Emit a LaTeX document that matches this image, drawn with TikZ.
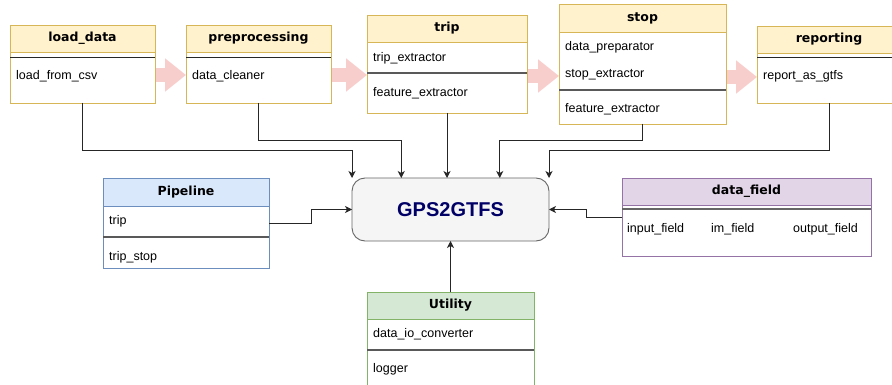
\documentclass[tikz,border=0pt]{standalone}
\usepackage{fontspec}
\setmainfont{Liberation Sans}
\newfontfamily\headfont{DejaVu Sans}
\usetikzlibrary{arrows.meta,calc}
\definecolor{ylfill}{HTML}{FFF2CC}
\definecolor{ylline}{HTML}{D6B656}
\definecolor{blfill}{HTML}{DAE8FC}
\definecolor{blline}{HTML}{6C8EBF}
\definecolor{grfill}{HTML}{D5E8D4}
\definecolor{grline}{HTML}{82B366}
\definecolor{pufill}{HTML}{E1D5E7}
\definecolor{puline}{HTML}{9673A6}
\definecolor{pinkc}{HTML}{F8CECC}
\definecolor{gpsfill}{HTML}{F5F5F5}
\definecolor{gpsline}{HTML}{666666}
\definecolor{navy}{HTML}{000066}
\tikzset{
  classbox/.style 2 args={draw=#1, fill=white, line width=0.9pt, anchor=north west, inner sep=0pt, outer sep=0pt},
  classhead/.style 2 args={draw=#2, fill=#1, line width=0.9pt, anchor=north west, inner sep=0pt, outer sep=0pt,
    font=\headfont\bfseries\fontsize{12.5}{14}\selectfont},
  rowtext/.style={anchor=base west, inner sep=0pt, font=\fontsize{12.5}{14}\selectfont},
  sepline/.style={draw=black!85, line width=0.9pt},
  divline/.style={draw=black!65, line width=1.3pt},
  dblline/.style={draw=black!60, line width=2pt},
  conn/.style={draw=black!85, line width=0.9pt, -{Stealth[length=7pt,width=7pt,inset=2pt]}},
  pinkarrow/.style={draw=pinkc, line width=14pt, line cap=butt, -{Triangle[length=21pt,width=32pt]}},
}
\begin{document}
\begin{tikzpicture}[x=1pt,y=-1pt]
\path[use as bounding box, clip] (0,0) rectangle (892,385);

% coordinates for pink arrows
\coordinate (a1s) at (155,75);  \coordinate (a1e) at (186,75);
\coordinate (a2s) at (331,75);  \coordinate (a2e) at (367,75);
\coordinate (a3s) at (527,76);  \coordinate (a3e) at (559,76);
\coordinate (a4s) at (726,77);  \coordinate (a4e) at (757,77);
\draw[pinkarrow] (a1s) -- (a1e);
\draw[pinkarrow] (a2s) -- (a2e);
\draw[pinkarrow] (a3s) -- (a3e);
\draw[pinkarrow] (a4s) -- (a4e);

% load_data
\node[classbox={ylline}{}, minimum width=145pt, minimum height=78pt] (load) at (10,25) {};
\node[classhead={ylfill}{ylline}, minimum width=145pt, minimum height=27pt] (load-h) at (10,25) {load\_data};
\draw[sepline] (load.west |- 0,57) -- (load.east |- 0,57);
\node[rowtext] (load-r1) at (16,79.5) {load\_from\_csv};

% preprocessing
\node[classbox={ylline}{}, minimum width=145pt, minimum height=78pt] (pre) at (186,25) {};
\node[classhead={ylfill}{ylline}, minimum width=145pt, minimum height=27pt] (pre-h) at (186,25) {preprocessing};
\draw[sepline] (pre.west |- 0,57) -- (pre.east |- 0,57);
\node[rowtext] (pre-r1) at (192,79.5) {data\_cleaner};

% trip
\node[classbox={ylline}{}, minimum width=160pt, minimum height=98pt] (trip) at (367,15) {};
\node[classhead={ylfill}{ylline}, minimum width=160pt, minimum height=27pt] (trip-h) at (367,15) {trip};
\node[rowtext] (trip-r1) at (373,61.5) {trip\_extractor};
\draw[divline] (trip.west |- 0,73) -- (trip.east |- 0,73);
\node[rowtext] (trip-r2) at (373,96.5) {feature\_extractor};

% stop
\node[classbox={ylline}{}, minimum width=167pt, minimum height=120pt] (stop) at (559,4) {};
\node[classhead={ylfill}{ylline}, minimum width=167pt, minimum height=28pt] (stop-h) at (559,4) {stop};
\node[rowtext] (stop-r1) at (565,50.5) {data\_preparator};
\node[rowtext] (stop-r2) at (565,77.5) {stop\_extractor};
\draw[divline] (stop.west |- 0,90) -- (stop.east |- 0,90);
\node[rowtext] (stop-r3) at (565,112.5) {feature\_extractor};

% reporting
\node[classbox={ylline}{}, minimum width=144pt, minimum height=77pt] (rep) at (757,26) {};
\node[classhead={ylfill}{ylline}, minimum width=144pt, minimum height=27pt] (rep-h) at (757,26) {reporting};
\draw[sepline] (rep.west |- 0,57) -- (rep.east |- 0,57);
\node[rowtext] (rep-r1) at (763,79.5) {report\_as\_gtfs};

% GPS2GTFS
\node[draw=gpsline, fill=gpsfill, line width=0.9pt, rounded corners=13pt, anchor=north west,
      minimum width=197pt, minimum height=63pt, inner sep=0pt, outer sep=0pt,
      font=\bfseries\fontsize{20}{24}\selectfont, text=navy] (gps) at (352,178) {GPS2GTFS};

% Pipeline
\node[classbox={blline}{}, minimum width=166pt, minimum height=90pt] (pipe) at (103,178) {};
\node[classhead={blfill}{blline}, minimum width=166pt, minimum height=28pt] (pipe-h) at (103,178) {Pipeline};
\node[rowtext] (pipe-r1) at (109,224.5) {trip};
\draw[divline] (pipe.west |- 0,237) -- (pipe.east |- 0,237);
\node[rowtext] (pipe-r2) at (109,260.5) {trip\_stop};

% data_field
\node[classbox={puline}{}, minimum width=249pt, minimum height=78pt] (df) at (622,178) {};
\node[classhead={pufill}{puline}, minimum width=249pt, minimum height=27pt] (df-h) at (622,178) {data\_field};
\draw[dblline] (df.west |- 0,209) -- (df.east |- 0,209);
\node[rowtext] (df-r1) at (627,232.5) {input\_field};
\node[rowtext] (df-r2) at (711,232.5) {im\_field};
\node[rowtext] (df-r3) at (793,232.5) {output\_field};

% Utility
\node[classbox={grline}{}, minimum width=167pt, minimum height=96pt] (util) at (367,292) {};
\node[classhead={grfill}{grline}, minimum width=167pt, minimum height=27pt] (util-h) at (367,292) {Utility};
\node[rowtext] (util-r1) at (373,337.5) {data\_io\_converter};
\draw[divline] (util.west |- 0,350) -- (util.east |- 0,350);
\node[rowtext] (util-r2) at (373,372.5) {logger};

% connectors
\coordinate (gpsq1) at ($(gps.north west)!0.25!(gps.north east)$);
\coordinate (gpsq3) at ($(gps.north west)!0.75!(gps.north east)$);
\draw[conn] (load.south) -- ++(0,47) -| (gps.north west);
\draw[conn] (pre.south) -- ++(0,37) -| (gpsq1);
\draw[conn] (trip.south) -- (trip.south |- gps.north);
\draw[conn] (stop.south) -- ++(0,16) -| (gpsq3);
\draw[conn] (rep.south) -- ++(0,47) -| (gps.north east);
\coordinate (pipeout) at (pipe.east |- 0,223);
\draw[conn] (pipeout) -- ++(42,0) |- (gps.west);
\coordinate (dfout) at (df.west |- 0,217);
\draw[conn] (dfout) -- ++(-36,0) |- (gps.east);
\draw[conn] (util.north) -- (gps.south);
\end{tikzpicture}
\end{document}
